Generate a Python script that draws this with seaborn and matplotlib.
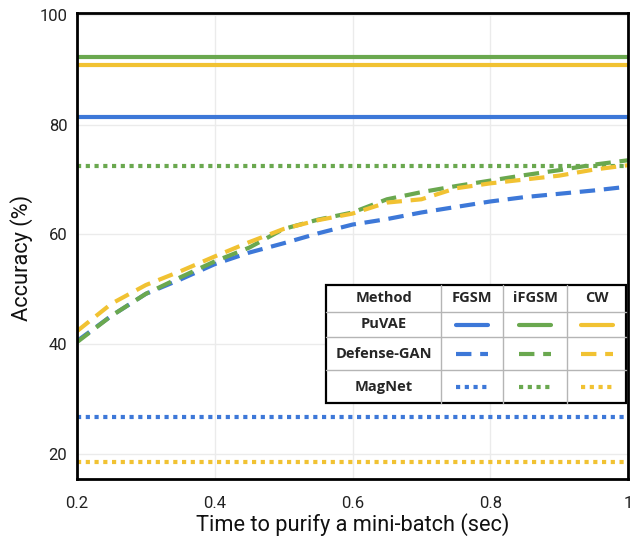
import numpy as np
import pandas as pd
import seaborn as sns
import matplotlib
matplotlib.use("Agg")
import matplotlib.pyplot as plt
from matplotlib.patches import Rectangle
from matplotlib.lines import Line2D

# data
t = [0.2, 0.25, 0.3, 0.35, 0.4, 0.45, 0.5, 0.55, 0.6, 0.65, 0.7, 0.75, 0.8, 0.85, 0.9, 0.95, 1.0]
attacks = ['FGSM', 'iFGSM', 'CW']
methods = ['PuVAE', 'Defense-GAN', 'MagNet']

puvae = {'FGSM': 81.3, 'iFGSM': 92.3, 'CW': 90.8}
magnet = {'FGSM': 26.8, 'iFGSM': 72.5, 'CW': 18.6}
dgan = {
    'FGSM': [40.6, 45.2, 49.2, 51.8, 54.6, 56.7, 58.4, 60.2, 61.8, 62.8, 64.0, 65.0, 66.0, 66.8, 67.4, 68.0, 68.7],
    'iFGSM': [40.4, 45.2, 49.2, 52.2, 55.1, 57.6, 61.0, 62.7, 64.0, 66.4, 67.7, 68.8, 69.8, 70.8, 71.7, 72.7, 73.5],
    'CW': [42.4, 47.4, 50.8, 53.3, 56.0, 58.6, 61.0, 62.6, 63.8, 65.8, 66.4, 68.4, 69.3, 70.0, 70.7, 71.8, 72.6],
}

colors = {'FGSM': '#3d78d8', 'iFGSM': '#6aa84f', 'CW': '#f1c232'}
dash_styles = {'PuVAE': '', 'Defense-GAN': (3.7, 2.1), 'MagNet': (1.0, 1.1)}

rows = []
for a in attacks:
    for i, x in enumerate(t):
        rows.append((x, puvae[a], a, 'PuVAE'))
        rows.append((x, dgan[a][i], a, 'Defense-GAN'))
        rows.append((x, magnet[a], a, 'MagNet'))
df = pd.DataFrame(rows, columns=['time', 'acc', 'attack', 'method'])

sns.set_style("white")
plt.rcParams['font.family'] = ['Roboto', 'DejaVu Sans']

W, H = 631, 541
fig = plt.figure(figsize=(W / 100, H / 100), dpi=100)
ax = fig.add_axes([77 / W, 1 - 479 / H, (628 - 77) / W, (479 - 13) / H])

sns.lineplot(data=df, x='time', y='acc', hue='attack', style='method',
             palette=colors, dashes=dash_styles, hue_order=attacks,
             style_order=methods, linewidth=3.0, ax=ax, legend=False)

ax.set_xlim(0.2, 1.0)
ax.set_ylim(15.5, 100.3)
ax.set_xticks([0.2, 0.4, 0.6, 0.8, 1.0])
ax.set_xticklabels(['0.2', '0.4', '0.6', '0.8', '1'])
ax.set_yticks([20, 40, 60, 80, 100])
ax.tick_params(labelsize=12, length=0, colors='#222222')
ax.tick_params(axis='x', pad=12.5)
ax.tick_params(axis='y', pad=7)
ax.grid(True, color='#ebebeb', lw=1)
for s in ax.spines.values():
    s.set_color('black')
    s.set_linewidth(2)
ax.set_xlabel('Time to purify a mini-batch (sec)', fontsize=15.7, labelpad=1, color='#111111')
ax.set_ylabel('Accuracy (%)', fontsize=15.7, color='#111111')
ax.yaxis.set_label_coords(-0.08, 0.474)

# legend drawn as a table
def fx(px):
    return px / W

def fy(py):
    return 1 - py / H

x_edges = [326, 441, 503, 567, 626]
y_edges = [285, 312, 337, 370, 403]
fig.add_artist(Rectangle((fx(326), fy(403)), fx(626) - fx(326), fy(285) - fy(403),
                         transform=fig.transFigure, facecolor='white',
                         edgecolor='black', lw=1.6, zorder=5))
for xe in x_edges[1:-1]:
    fig.add_artist(Line2D([fx(xe), fx(xe)], [fy(285), fy(403)], color='#b5b5b5',
                          lw=1, transform=fig.transFigure, zorder=6))
for ye in y_edges[1:-1]:
    fig.add_artist(Line2D([fx(326), fx(626)], [fy(ye), fy(ye)], color='#b5b5b5',
                          lw=1, transform=fig.transFigure, zorder=6))

tfont = dict(family=['Open Sans', 'DejaVu Sans'], fontweight='bold', fontsize=10.5,
             ha='center', va='center', zorder=7)
headers = ['Method'] + attacks
for j, hd in enumerate(headers):
    cx = (x_edges[j] + x_edges[j + 1]) / 2
    fig.text(fx(cx), fy((y_edges[0] + y_edges[1]) / 2), hd, **tfont)
for i, m in enumerate(methods):
    cy = (y_edges[i + 1] + y_edges[i + 2]) / 2
    fig.text(fx((x_edges[0] + x_edges[1]) / 2), fy(cy), m, **tfont)
    for j, a in enumerate(attacks):
        cx = (x_edges[j + 1] + x_edges[j + 2]) / 2
        ln = Line2D([fx(cx - 16), fx(cx + 16)], [fy(cy), fy(cy)], color=colors[a],
                    lw=3.0, transform=fig.transFigure, zorder=7)
        if dash_styles[m]:
            ln.set_dashes(dash_styles[m])
        fig.add_artist(ln)

fig.savefig('out.png', dpi=100)
